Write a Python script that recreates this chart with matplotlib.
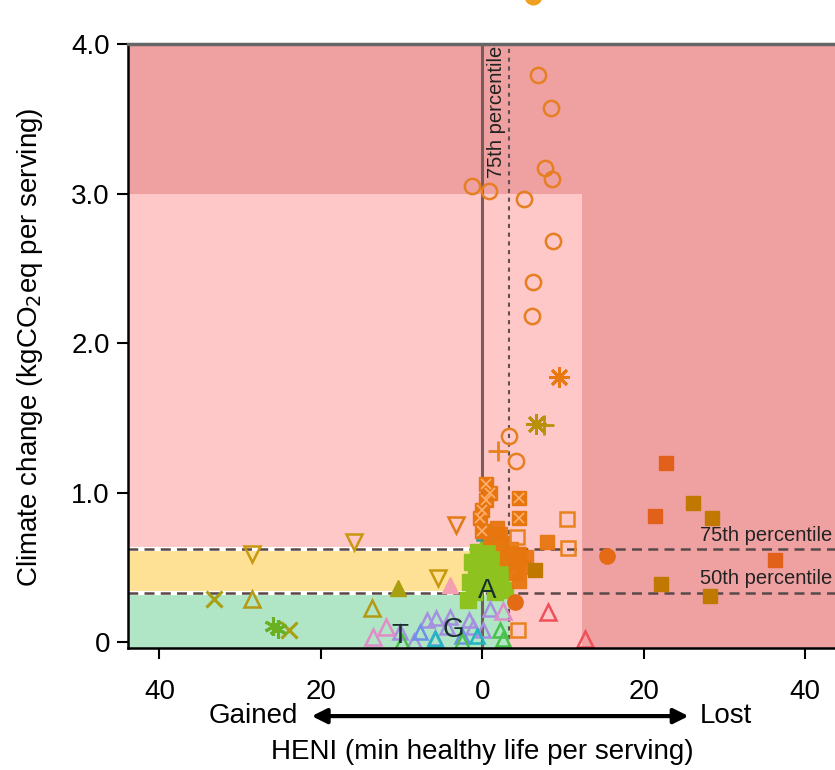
import matplotlib.pyplot as plt
from matplotlib.patches import Rectangle

plt.rcParams['font.family'] = ['Liberation Sans', 'DejaVu Sans']

# HENI: negative = gained, positive = lost (min per serving); CO2 in kg per serving
circ_x = [6.95, 8.5, 7.8, 8.6, -1.3, 0.85, 5.2, 8.8, 6.3, 6.1, 3.25, 4.2]
circ_y = [3.79, 3.57, 3.17, 3.10, 3.05, 3.02, 2.96, 2.68, 2.41, 2.18, 1.38, 1.21]

star_o_x, star_o_y = [9.5], [1.77]
star_g_x, star_g_y = [6.7], [1.46]
plus_g_x, plus_g_y = [7.7], [1.45]
plus_o_x, plus_o_y = [2.0], [1.28]

boxx_x = [0.5, 0.9, 0.5, -0.1, -0.3, 4.6, 4.6, 0.0]
boxx_y = [1.06, 1.00, 0.95, 0.88, 0.83, 0.96, 0.83, 0.74]

sqo_x = [1.8, 2.2, 1.0, 2.6, 3.0, 4.6, 5.4, 4.2, 5.0, 4.2, 4.6, 3.6, 8.0]
sqo_y = [0.76, 0.72, 0.70, 0.66, 0.56, 0.59, 0.57, 0.53, 0.50, 0.46, 0.41, 0.62, 0.67]

sqr_x = [22.7, 21.4, 36.3]
sqr_y = [1.195, 0.84, 0.55]

sqb_x = [26.1, 28.5, 22.2, 28.2, 6.5]
sqb_y = [0.93, 0.83, 0.39, 0.31, 0.48]

sq_open_x = [10.5, 10.6, 4.25, 4.4]
sq_open_y = [0.82, 0.63, 0.70, 0.08]

dot_x, dot_y = [15.4, 4.0], [0.575, 0.27]

tri_red_x, tri_red_y = [8.2, 12.7], [0.20, 0.02]

dtri_ol_x = [-28.5, -15.9, -5.5]
dtri_ol_y = [0.59, 0.67, 0.43]
dtri_or_x, dtri_or_y = [-3.3], [0.78]

tri_ol_x, tri_ol_y = [-28.5, -13.7], [0.29, 0.225]
tri_olf_x, tri_olf_y = [-10.4], [0.36]

x_ol_x, x_ol_y = [-33.2, -24.0], [0.29, 0.08]
star_gr_x, star_gr_y = [-25.3, -25.9], [0.09, 0.11]

tri_pk_x = [-13.5, -11.9, 2.6]
tri_pk_y = [0.035, 0.10, 0.21]
tri_pkf_x, tri_pkf_y = [-4.0], [0.38]

tri_lav_x = [-10.2, -6.9, -5.7, -4.0, -1.6, -1.2, 0.1, 0.9, -8.5, -4.4]
tri_lav_y = [0.07, 0.15, 0.16, 0.17, 0.15, 0.10, 0.08, 0.22, 0.01, 0.10]
tri_blue_x, tri_blue_y = [-7.7, -5.8, -2.5], [0.07, 0.03, 0.04]
tri_teal_x, tri_teal_y = [-5.8, -0.7], [0.02, 0.04]
tri_gr_x, tri_gr_y = [2.2, 2.6, -2.5, -10.0], [0.08, 0.02, 0.01, 0.0]

sq_teal_x, sq_teal_y = [0.2], [0.73]

blob_x = [-0.55, 0.7, 1.9, 2.8, -1.3, -0.05, 1.2, 2.4, -0.8, 0.45,
          1.7, -1.5, -0.3, 0.95, 2.2, -1.0, 1.55, 2.8, -1.8]
blob_y = [0.60, 0.615, 0.61, 0.575, 0.535, 0.55, 0.535, 0.51, 0.47, 0.47,
          0.455, 0.40, 0.40, 0.40, 0.415, 0.335, 0.335, 0.35, 0.28]

letters = ['T', 'G', 'A']
letter_x = [-10.2, -3.6, 0.55]
letter_y = [0.04, 0.08, 0.34]

x75, y75, y50 = 3.3, 0.62, 0.33
red_x, red_y = 12.4, 3.0

fig = plt.figure(figsize=(8.35, 7.7), dpi=100)
ax = fig.add_axes([128 / 835, 122 / 770, 1 - 128 / 835, 604 / 770])
ax.set_xlim(-43.9, 43.7)
ax.set_ylim(-0.04, 4.0)

# zones
ax.set_facecolor('#EFA1A1')
ax.add_patch(Rectangle((-50, -1), red_x + 50, red_y + 1, color='#FFC8C8', lw=0, zorder=0))
ax.add_patch(Rectangle((-50, y50), x75 + 50, y75 - y50, color='#FFE196', lw=0, zorder=0))
ax.add_patch(Rectangle((-50, -1), x75 + 50, y50 + 1, color='#B0E5C5', lw=0, zorder=0))

# percentile lines
for yy in (y75, y50):
    ax.plot([-50, x75], [yy, yy], color='white', lw=3, zorder=1)
    ax.plot([-50, 50], [yy, yy], color='#5a4848', lw=1.8, ls=(0, (4, 2.5)), zorder=1.1)
ax.axvline(0, color='#7a5c5c', lw=2.2, zorder=1)
ax.axvline(x75, color='#605050', lw=1.5, ls=(0, (2, 2.2)), zorder=1)

ax.text(1.75, 3.99, '75th percentile', rotation=90, ha='center', va='top',
        fontsize=14.5, color='#222222', zorder=5)
ax.text(43.3, y75 + 0.03, '75th percentile', ha='right', va='bottom', fontsize=14.5, color='#222222')
ax.text(43.3, y50 + 0.03, '50th percentile', ha='right', va='bottom', fontsize=14.5, color='#222222')

op = dict(ls='none', mfc='none', mew=1.8)
ax.plot(blob_x, blob_y, 's', ms=11, color='#8DC21F', mec='#8DC21F', ls='none', zorder=2)
ax.plot(tri_lav_x, tri_lav_y, '^', ms=10, color='#A58FE0', **op)
ax.plot(tri_blue_x, tri_blue_y, '^', ms=10, color='#6E90E8', **op)
ax.plot(tri_teal_x, tri_teal_y, '^', ms=10, color='#20B5C0', **op)
ax.plot(tri_gr_x, tri_gr_y, '^', ms=10, color='#4CC04C', **op)
ax.plot(tri_pk_x, tri_pk_y, '^', ms=11, color='#E08CC8', **op)
ax.plot(tri_pkf_x, tri_pkf_y, '^', ms=11, color='#F5A0B0', ls='none')
ax.plot(tri_ol_x, tri_ol_y, '^', ms=11.5, color='#B39A12', **op)
ax.plot(tri_olf_x, tri_olf_y, '^', ms=11, color='#A8A010', ls='none')
ax.plot(dtri_ol_x, dtri_ol_y, 'v', ms=11.5, color='#C8980F', **op)
ax.plot(dtri_or_x, dtri_or_y, 'v', ms=11.5, color='#E07B16', **op)
ax.plot(x_ol_x, x_ol_y, 'x', ms=11, color='#A8A012', ls='none', mew=2.2)
for sx, sy in zip(star_gr_x, star_gr_y):
    ax.plot([sx], [sy], marker=(6, 2, 0), ms=13, color='#6AB023', mew=2.2, ls='none')
ax.plot(sq_teal_x, sq_teal_y, 's', ms=9.5, color='#2A9D8F', **op)
ax.plot(sqo_x, sqo_y, 's', ms=10, color='#E8760F', ls='none', alpha=0.95)
ax.plot(boxx_x, boxx_y, 's', ms=10, color='#E8760F', ls='none')
ax.plot(boxx_x, boxx_y, 'x', ms=6.5, color='#FFB070', mew=1.2, ls='none')
ax.plot(sq_open_x, sq_open_y, 's', ms=10, color='#E8821E', **op)
ax.plot(sqr_x, sqr_y, 's', ms=10, color='#E2611A', ls='none')
ax.plot(sqb_x, sqb_y, 's', ms=10, color='#C07800', ls='none')
ax.plot(dot_x, dot_y, 'o', ms=11, color='#E56A14', ls='none')
ax.plot(tri_red_x, tri_red_y, '^', ms=12, color='#F0505A', **op)
ax.plot(circ_x, circ_y, 'o', ms=11, color='#E67E22', **op)
ax.plot(star_o_x, star_o_y, marker=(8, 2, 0), ms=15, color='#E8780F', mew=2, ls='none')
ax.plot(star_g_x, star_g_y, marker=(8, 2, 0), ms=15, color='#B8900A', mew=2, ls='none')
ax.plot(plus_g_x, plus_g_y, '+', ms=14, color='#B8900A', mew=2, ls='none')
ax.plot(plus_o_x, plus_o_y, '+', ms=15, color='#E8821E', mew=2, ls='none')
for t, lx, ly in zip(letters, letter_x, letter_y):
    ax.text(lx, ly, t, ha='center', va='center', fontsize=20, color='#1a2e2e', zorder=6)

# clipped legend marker at the very top
ax.plot([6.3], [4.32], 'o', ms=12, color='#F0A020', clip_on=False)

ax.set_xticks([-40, -20, 0, 20, 40])
ax.set_xticklabels(['40', '20', '0', '20', '40'])
ax.set_yticks([0, 1, 2, 3, 4])
ax.set_yticklabels(['0', '1.0', '2.0', '3.0', '4.0'])
ax.tick_params(axis='x', labelsize=20, length=8, width=1.5, pad=14)
ax.tick_params(axis='y', labelsize=20, length=8, width=1.5, pad=5)
ax.spines['left'].set_linewidth(1.8)
ax.spines['bottom'].set_linewidth(1.8)
ax.spines['top'].set_color('#666666')
ax.spines['top'].set_linewidth(2.5)
ax.spines['right'].set_visible(False)

fig.text(0.036, 0.549, 'Climate change (kgCO$_2$eq per serving)', rotation=90,
         ha='center', va='center', fontsize=20)
fig.text(0.357, 0.070, 'Gained', ha='right', va='center', fontsize=20)
fig.text(0.838, 0.070, 'Lost', ha='left', va='center', fontsize=20)
fig.text(0.578, 0.0234, 'HENI (min healthy life per serving)', ha='center', va='center', fontsize=20)
ax.annotate('', xy=(0.828, 0.070), xytext=(0.370, 0.070), xycoords='figure fraction',
            arrowprops=dict(arrowstyle='<|-|>', color='black', lw=3, mutation_scale=22))

fig.savefig('out.png', dpi=100)
